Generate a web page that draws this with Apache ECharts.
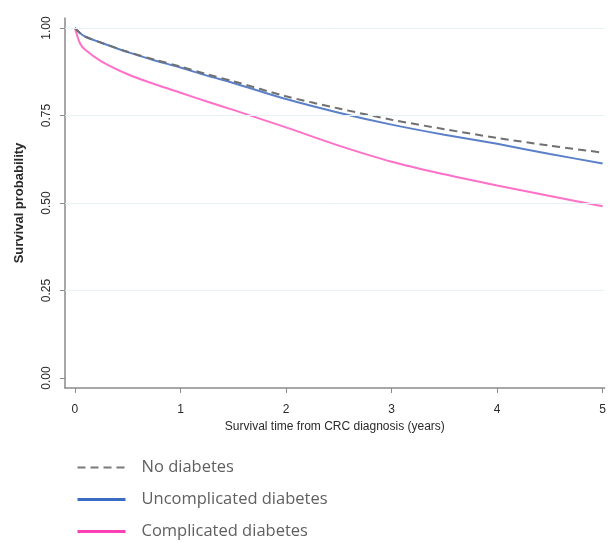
<!DOCTYPE html>
<html><head><meta charset="utf-8">
<script src="https://cdn.jsdelivr.net/npm/echarts@6/dist/echarts.min.js"></script>
<style>html,body{margin:0;padding:0;background:#fff}#c{width:609px;height:543px}</style>
</head><body><div id="c"></div>
<script>
const times = [0, 0.05, 0.1, 0.25, 0.5, 0.75, 1, 1.25, 1.5, 2, 2.5, 3, 3.5, 4, 4.5, 5];
const noDiabetes = [1.0, 0.985, 0.975, 0.958, 0.932, 0.91, 0.89, 0.868, 0.848, 0.805, 0.77, 0.738, 0.711, 0.686, 0.664, 0.644];
const uncomplicated = [1.0, 0.985, 0.975, 0.958, 0.931, 0.908, 0.887, 0.864, 0.843, 0.797, 0.758, 0.724, 0.695, 0.669, 0.64, 0.613];
const complicated = [1.0, 0.955, 0.937, 0.905, 0.868, 0.84, 0.815, 0.79, 0.766, 0.716, 0.664, 0.618, 0.582, 0.55, 0.52, 0.491];
const xTicks = [0, 1, 2, 3, 4, 5];
const yTicks = [0, 0.25, 0.5, 0.75, 1];
const gridValues = [0.25, 0.5, 0.75, 1];
const seriesNames = ['No diabetes', 'Uncomplicated diabetes', 'Complicated diabetes'];

const pair = (ys) => times.map((t, i) => [t, ys[i]]);
const chart = echarts.init(document.getElementById('c'));
chart.setOption({
  animation: false,
  grid: {left: 65, right: 0, top: 18, bottom: 155},
  xAxis: {
    type: 'value', min: -0.094, max: 5.019,
    axisLine: {show: true, onZero: false, lineStyle: {color: '#8a8a8a', width: 1.5}},
    axisTick: {show: true, length: 5, customValues: xTicks, lineStyle: {color: '#8a8a8a'}},
    axisLabel: {customValues: xTicks, margin: 16, color: '#2a2a2a', fontFamily: 'Liberation Sans', fontSize: 12},
    splitLine: {show: false},
    name: 'Survival time from CRC diagnosis (years)', nameLocation: 'middle', nameGap: 30,
    nameTextStyle: {color: '#2a2a2a', fontFamily: 'Liberation Sans', fontSize: 12}
  },
  yAxis: {
    type: 'value', min: -0.0286, max: 1.0286,
    axisLine: {show: true, onZero: false, lineStyle: {color: '#8a8a8a', width: 1.5}},
    axisTick: {show: true, length: 5, customValues: yTicks, lineStyle: {color: '#8a8a8a'}},
    axisLabel: {customValues: yTicks, rotate: 90, margin: 12, color: '#2a2a2a', fontFamily: 'Liberation Sans', fontSize: 12,
      formatter: v => v.toFixed(2)},
    splitLine: {show: false},
    name: 'Survival probability', nameLocation: 'middle', nameGap: 39, nameRotate: 90,
    nameTextStyle: {color: '#2a2a2a', fontFamily: 'Liberation Sans', fontSize: 13, fontWeight: 'bold'}
  },
  legend: {
    orient: 'vertical', left: 71, top: 454, height: 100, itemWidth: 48, itemHeight: 14, itemGap: 15,
    data: [
      {name: seriesNames[0], lineStyle: {color: '#7a7a7a', width: 2}},
      {name: seriesNames[1], lineStyle: {color: '#3a6cc6', width: 3}},
      {name: seriesNames[2], lineStyle: {color: '#ff40b4', width: 3}}
    ],
    itemStyle: {opacity: 0},
    textStyle: {color: '#606060', fontFamily: 'Open Sans', fontSize: 16.5, padding: [0, 0, 0, 11]}
  },
  series: [
    {name: seriesNames[0], type: 'line', data: pair(noDiabetes), symbol: 'none', smooth: 0.3, z: 3,
     lineStyle: {color: '#707070', width: 2, type: [8, 5]}, itemStyle: {color: '#707070'},
     markLine: {silent: true, symbol: 'none', label: {show: false}, animation: false,
       lineStyle: {color: '#e6f2f4', width: 1, type: 'solid'},
       data: gridValues.map(v => ({yAxis: v}))}},
    {name: seriesNames[1], type: 'line', data: pair(uncomplicated), symbol: 'none', smooth: 0.3, z: 2,
     lineStyle: {color: '#5b80c9', width: 2}, itemStyle: {color: '#3f6fc3'}},
    {name: seriesNames[2], type: 'line', data: pair(complicated), symbol: 'none', smooth: 0.3, z: 2,
     lineStyle: {color: '#ff70c8', width: 2}, itemStyle: {color: '#ff45b5'}}
  ]
});
</script></body></html>
